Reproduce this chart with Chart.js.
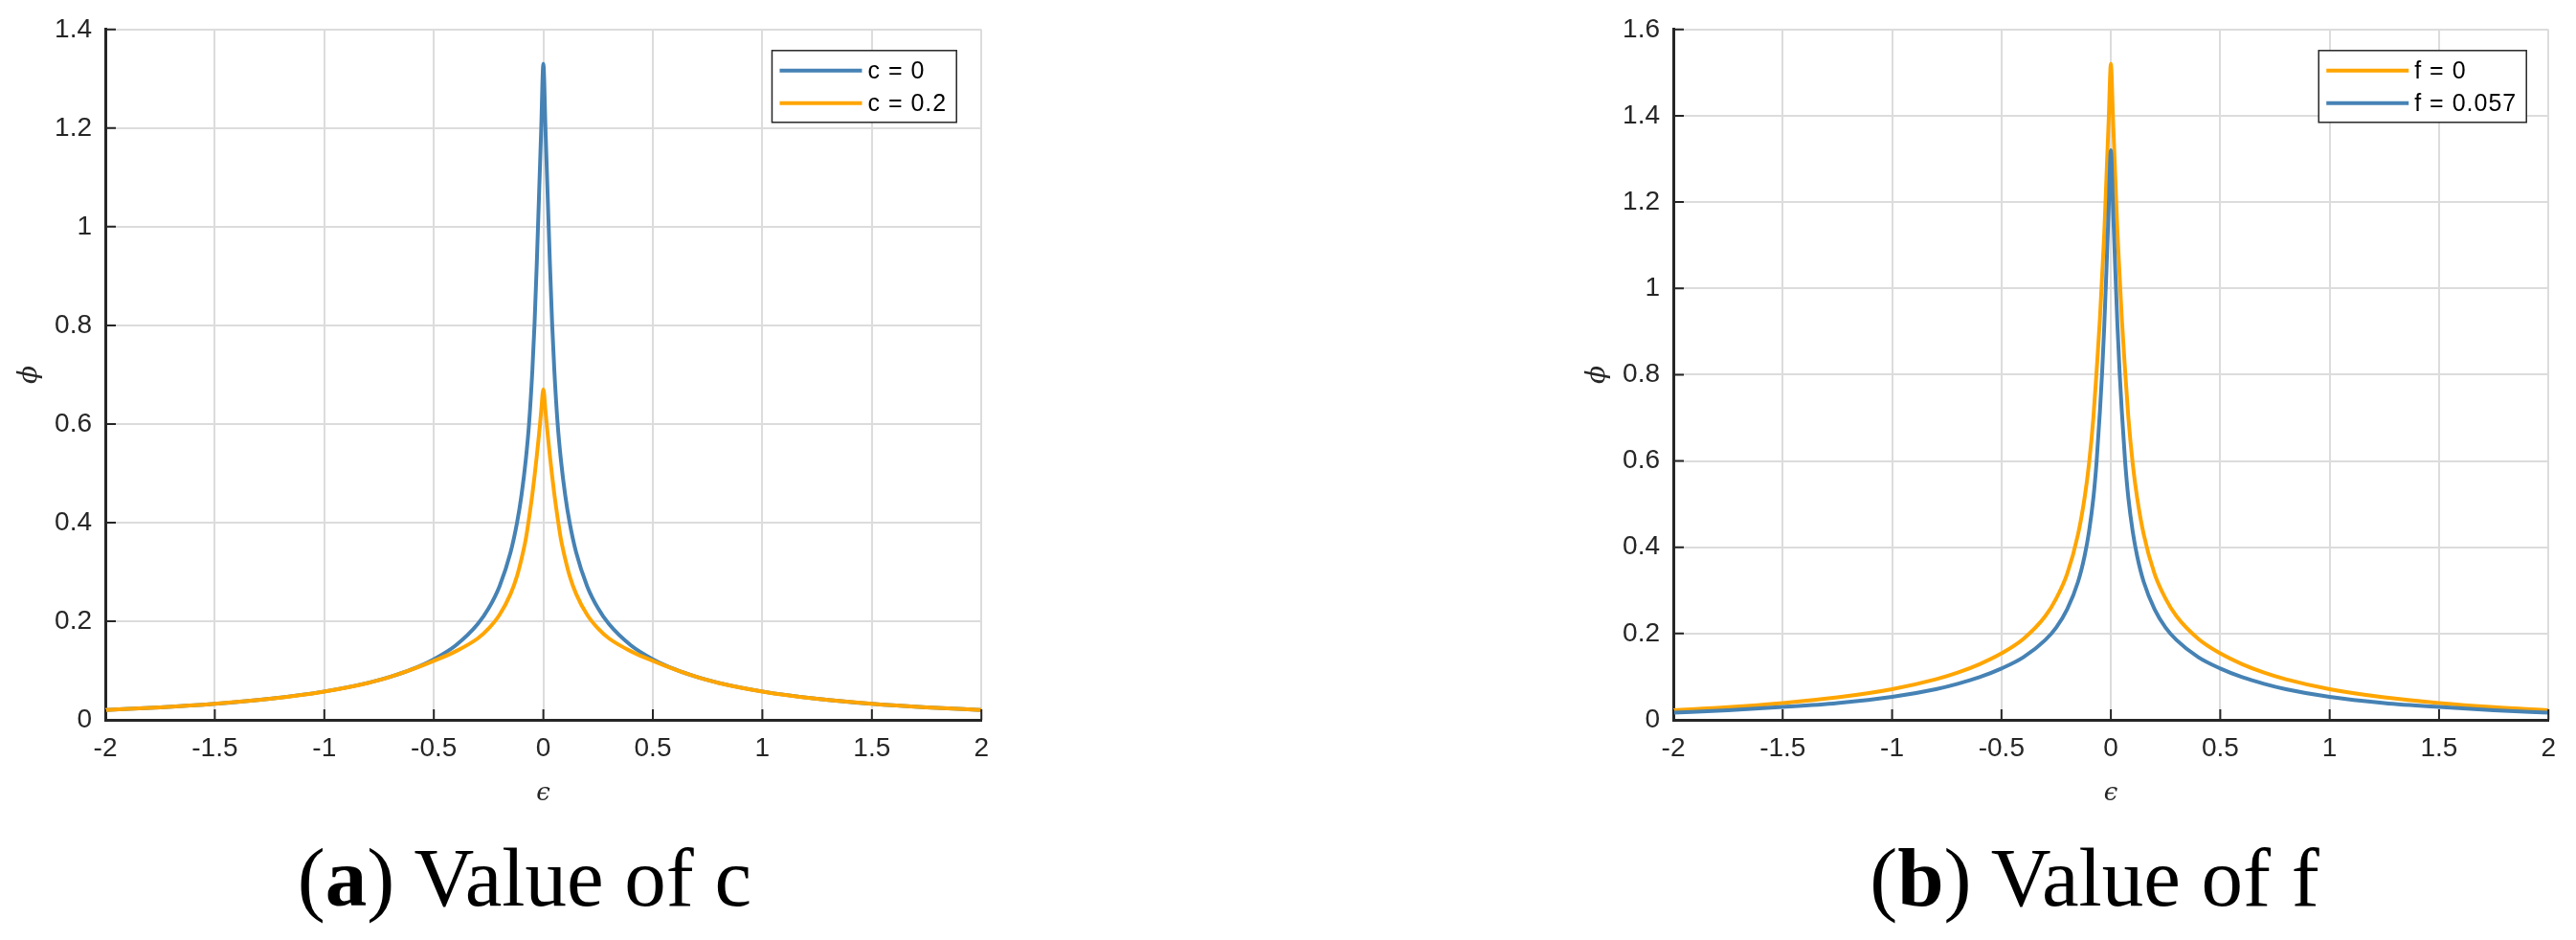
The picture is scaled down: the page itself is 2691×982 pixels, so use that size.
<!DOCTYPE html>
<html>
<head>
<meta charset="utf-8">
<script src="https://cdn.jsdelivr.net/npm/chart.js@4.4.1/dist/chart.umd.min.js"></script>
<style>
  html, body { margin: 0; padding: 0; background: #fff; }
  body { width: 2691px; height: 982px; position: relative; overflow: hidden; }
  canvas { position: absolute; top: 0; }
  .caption {
    position: absolute; top: 873px; width: 600px; text-align: center;
    font-family: "Liberation Serif", "Times New Roman", serif;
    font-size: 87px; line-height: 87px; color: #000; white-space: nowrap;
  }
</style>
</head>
<body>
<canvas id="chartA" width="1046" height="870" style="left:0px"></canvas>
<canvas id="chartB" width="1045" height="870" style="left:1638px"></canvas>
<div class="caption" style="left:248px">(<b>a</b>) Value of c</div>
<div class="caption" style="left:1888px">(<b>b</b>) Value of f</div>
<script>
// epsilon samples (shared by all four curves)
const eps = [-2, -1.75, -1.5, -1.25, -1, -0.8, -0.7, -0.6, -0.5, -0.4, -0.3, -0.25, -0.2, -0.15, -0.12, -0.1,
  -0.08, -0.065, -0.05, -0.04, -0.03, -0.02, -0.01, 0, 0.01, 0.02, 0.03, 0.04, 0.05, 0.065, 0.08,
  0.1, 0.12, 0.15, 0.2, 0.25, 0.3, 0.4, 0.5, 0.6, 0.7, 0.8, 1, 1.25, 1.5, 1.75, 2];

// (a) value of c
const phi_c0 = [0.02, 0.0252, 0.0324, 0.0426, 0.0575, 0.075, 0.087, 0.1025, 0.123, 0.151, 0.194, 0.226, 0.271, 0.339, 0.4, 0.455,
  0.528, 0.602, 0.71, 0.805, 0.925, 1.06, 1.195, 1.33, 1.195, 1.06, 0.925, 0.805, 0.71, 0.602, 0.528,
  0.455, 0.4, 0.339, 0.271, 0.226, 0.194, 0.151, 0.123, 0.1025, 0.087, 0.075, 0.0575, 0.0426, 0.0324, 0.0252, 0.02];
const phi_c02 = [0.02, 0.0252, 0.0324, 0.0425, 0.0573, 0.0747, 0.087, 0.102, 0.1195, 0.139, 0.165, 0.185, 0.213, 0.255, 0.292, 0.326,
  0.367, 0.41, 0.458, 0.495, 0.535, 0.578, 0.625, 0.67, 0.625, 0.578, 0.535, 0.495, 0.458, 0.41, 0.367,
  0.326, 0.292, 0.255, 0.213, 0.185, 0.165, 0.139, 0.1195, 0.102, 0.087, 0.0747, 0.0573, 0.0425, 0.0324, 0.0252, 0.02];

// (b) value of f
const phi_f0 = [0.0221, 0.0292, 0.0389, 0.052, 0.071, 0.0939, 0.1094, 0.129, 0.154, 0.1875, 0.24, 0.281, 0.338, 0.43, 0.515, 0.593,
  0.7, 0.81, 0.93, 1.03, 1.13, 1.26, 1.39, 1.52, 1.39, 1.26, 1.13, 1.03, 0.93, 0.81, 0.7,
  0.593, 0.515, 0.43, 0.338, 0.281, 0.24, 0.1875, 0.154, 0.129, 0.1094, 0.0939, 0.071, 0.052, 0.0389, 0.0292, 0.0221];
const phi_f057 = [0.0165, 0.0221, 0.0297, 0.039, 0.0532, 0.0711, 0.0836, 0.099, 0.119, 0.145, 0.185, 0.214, 0.256, 0.32, 0.38, 0.436,
  0.514, 0.6, 0.715, 0.805, 0.915, 1.045, 1.185, 1.32, 1.185, 1.045, 0.915, 0.805, 0.715, 0.6, 0.514,
  0.436, 0.38, 0.32, 0.256, 0.214, 0.185, 0.145, 0.119, 0.099, 0.0836, 0.0711, 0.0532, 0.039, 0.0297, 0.0221, 0.0165];

const x_ticks = [-2, -1.5, -1, -0.5, 0, 0.5, 1, 1.5, 2];

const blue = "rgb(70, 130, 180)";
const orange = "rgb(255, 165, 0)";
const axis_color = "#262626";
const grid_color = "#dcdcdc";
const tick_font = { family: "'Liberation Sans', Arial, sans-serif", size: 28 };

const points = (ys) => eps.map((x, i) => ({ x: x, y: ys[i] }));

const line_set = (label, ys, color, order) => ({
  label: label,
  data: points(ys),
  borderColor: color,
  backgroundColor: color,
  borderWidth: 4,
  pointRadius: 0,
  showLine: true,
  cubicInterpolationMode: "monotone",
  order: order,
});

// short tick marks pointing into the plot, like the matlab axes
const inner_ticks = {
  id: "inner_ticks",
  afterDatasetsDraw(chart) {
    const { ctx, chartArea, scales } = chart;
    ctx.save();
    ctx.strokeStyle = axis_color;
    ctx.lineWidth = 2;
    ctx.beginPath();
    scales.x.ticks.forEach((t) => {
      const px = scales.x.getPixelForValue(t.value);
      ctx.moveTo(px, chartArea.bottom);
      ctx.lineTo(px, chartArea.bottom - 11);
    });
    scales.y.ticks.forEach((t) => {
      const py = scales.y.getPixelForValue(t.value);
      ctx.moveTo(chartArea.left, py);
      ctx.lineTo(chartArea.left + 11, py);
    });
    ctx.stroke();
    ctx.restore();
  },
};

// boxed legend in the upper right corner of the plot area
const box_legend = {
  id: "box_legend",
  afterDraw(chart, args, opts) {
    const { ctx, chartArea } = chart;
    const sets = chart.data.datasets;
    ctx.save();
    ctx.font = "25px 'Liberation Sans', Arial, sans-serif";
    ctx.letterSpacing = "1px";
    const text_w = Math.max(...sets.map((d) => ctx.measureText(d.label).width));
    const w = 8 + 86 + 6 + text_w + 10;
    const h = 75;
    const x0 = chartArea.right - opts.right - w;
    const y0 = chartArea.top + 22;
    ctx.fillStyle = "#fff";
    ctx.fillRect(x0, y0, w, h);
    ctx.strokeStyle = axis_color;
    ctx.lineWidth = 1.5;
    ctx.strokeRect(x0, y0, w, h);
    sets.forEach((d, i) => {
      const y = y0 + 21 + i * 34;
      ctx.strokeStyle = d.borderColor;
      ctx.lineWidth = 4;
      ctx.beginPath();
      ctx.moveTo(x0 + 8, y);
      ctx.lineTo(x0 + 94, y);
      ctx.stroke();
      ctx.fillStyle = "#000";
      ctx.textBaseline = "middle";
      ctx.textAlign = "left";
      ctx.fillText(d.label, x0 + 100, y + 1);
    });
    ctx.restore();
  },
};

const make_chart = (id, sets, y_max, legend_right) => {
  const ctx = document.getElementById(id).getContext("2d");
  return new Chart(ctx, {
    type: "scatter",
    data: { datasets: sets },
    options: {
      responsive: false,
      maintainAspectRatio: false,
      animation: false,
      devicePixelRatio: 1,
      layout: { padding: { top: 27, right: 20, left: 0, bottom: 0 } },
      plugins: {
        legend: { display: false },
        tooltip: { enabled: false },
        box_legend: { right: legend_right },
      },
      scales: {
        x: {
          type: "linear",
          min: -2,
          max: 2,
          afterBuildTicks: (s) => { s.ticks = x_ticks.map((v) => ({ value: v })); },
          ticks: {
            color: axis_color,
            font: tick_font,
            padding: 13,
            maxRotation: 0,
            autoSkip: false,
            callback: (v) => String(v),
          },
          grid: { color: grid_color, lineWidth: 2, drawTicks: false },
          border: { color: axis_color, width: 3 },
          title: {
            display: true,
            text: "ϵ",
            color: axis_color,
            font: { family: "'DejaVu Serif', serif", style: "italic", size: 26 },
            padding: { top: 0, bottom: 25 },
          },
          afterFit: (s) => { s.height = 118; },
        },
        y: {
          type: "linear",
          min: 0,
          max: y_max,
          ticks: {
            stepSize: 0.2,
            color: axis_color,
            font: tick_font,
            padding: 14,
            callback: (v) => String(+v.toFixed(1)),
          },
          grid: { color: grid_color, lineWidth: 2, drawTicks: false },
          border: { color: axis_color, width: 3 },
          title: {
            display: true,
            text: "ϕ",
            color: axis_color,
            font: { family: "'DejaVu Serif', serif", style: "italic", size: 28 },
            padding: { top: 14, bottom: 0 },
          },
          afterFit: (s) => { s.width = 110; },
        },
      },
    },
    plugins: [inner_ticks, box_legend],
  });
};

make_chart("chartA", [
  line_set("c = 0", phi_c0, blue, 1),
  line_set("c = 0.2", phi_c02, orange, 0),
], 1.4, 26);

make_chart("chartB", [
  line_set("f = 0", phi_f0, orange, 1),
  line_set("f = 0.057", phi_f057, blue, 0),
], 1.6, 23);
</script>
</body>
</html>
